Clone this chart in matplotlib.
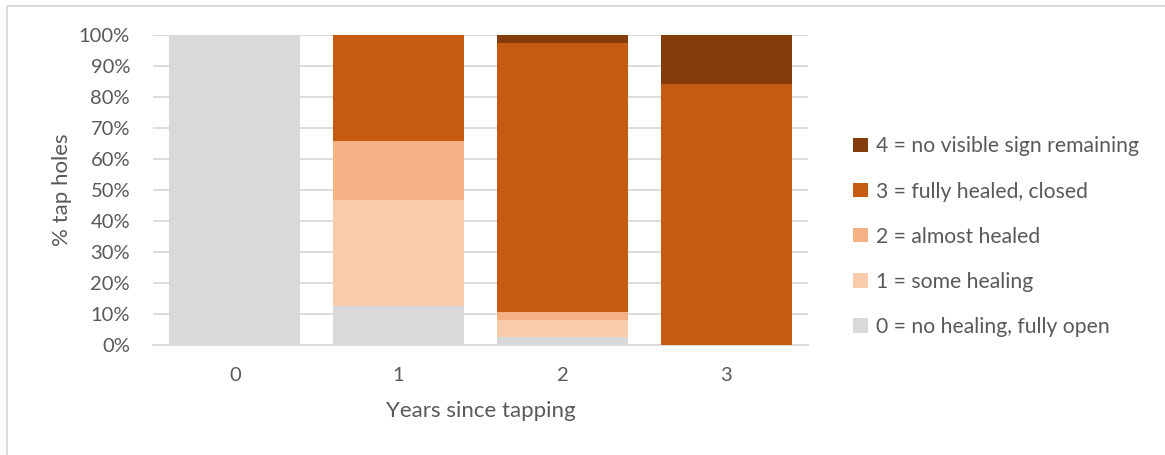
import matplotlib
matplotlib.use("Agg")
import matplotlib.pyplot as plt
from matplotlib.patches import Rectangle, Patch
from matplotlib.ticker import PercentFormatter
import numpy as np

# Share of tap holes in each healing class, by years since tapping (percent)
years = ["0", "1", "2", "3"]
class_labels = [
    "0 = no healing, fully open",
    "1 = some healing",
    "2 = almost healed",
    "3 = fully healed, closed",
    "4 = no visible sign remaining",
]
class0 = [100.0, 12.6, 2.7, 0.0]
class1 = [0.0, 34.2, 5.4, 0.0]
class2 = [0.0, 18.8, 2.5, 0.0]
class3 = [0.0, 34.4, 86.7, 84.2]
class4 = [0.0, 0.0, 2.7, 15.8]

colors = ["#D9D9D9", "#F8CBAD", "#F4B183", "#C55A11", "#843C0C"]
text_color = "#595959"
grid_color = "#D9D9D9"

plt.rcParams["font.family"] = ["Lato", "DejaVu Sans"]

fig = plt.figure(figsize=(11.65, 4.55), dpi=100)
ax = fig.add_axes([153 / 1165, 1 - 345 / 455, 655 / 1165, 310.5 / 455])

x = np.arange(len(years))
series = [class0, class1, class2, class3, class4]
bottom = np.zeros(len(years))
handles = []
for vals, col, lab in zip(series, colors, class_labels):
    v = np.array(vals) / 100.0
    ax.bar(x, v, width=0.8, bottom=bottom, color=col, edgecolor="none", zorder=3)
    bottom += v
    handles.append(Patch(facecolor=col, edgecolor="none", label=lab))

ax.set_xlim(-0.5, len(years) - 0.5)
ax.set_ylim(0, 1)
ax.set_yticks(np.linspace(0, 1, 11))
ax.yaxis.set_major_formatter(PercentFormatter(1.0, decimals=0))
ax.set_xticks(x)
ax.set_xticklabels(years)
ax.grid(axis="y", color=grid_color, linewidth=1.3, zorder=0)
for s in ["top", "right", "left"]:
    ax.spines[s].set_visible(False)
ax.spines["bottom"].set_color(grid_color)
ax.spines["bottom"].set_linewidth(1.3)
ax.tick_params(axis="both", length=0, labelsize=14.5, colors=text_color)
ax.tick_params(axis="y", pad=16.5)
ax.tick_params(axis="x", pad=16)

ax.set_ylabel("% tap holes", fontsize=16, color=text_color, labelpad=5)
ax.set_xlabel("Years since tapping", fontsize=16, color=text_color, labelpad=12)

leg = fig.legend(
    handles=handles[::-1],
    loc="upper left",
    bbox_to_anchor=(845 / 1165, 1 - 128 / 455),
    frameon=False,
    fontsize=15.2,
    handlelength=0.67,
    handleheight=0.67,
    handletextpad=0.4,
    labelspacing=1.19,
    borderaxespad=0,
)
for t in leg.get_texts():
    t.set_color(text_color)

# Light frame around the chart area
fig.add_artist(Rectangle((7 / 1165, -0.05), 1.2, 1 - 6 / 455 + 0.05,
                         transform=fig.transFigure, fill=False,
                         edgecolor="#D9D9D9", linewidth=1.3))

fig.savefig("out.png", dpi=100)
